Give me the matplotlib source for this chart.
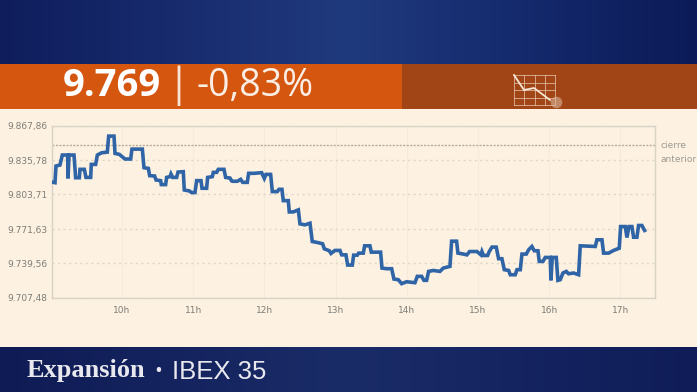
import numpy as np
import matplotlib
matplotlib.use("Agg")
import matplotlib.pyplot as plt
from matplotlib.colors import LinearSegmentedColormap
from matplotlib.patches import Rectangle

W, H = 697, 392

hours = [9.012,9.059,9.073,9.129,9.162,9.237,9.242,9.256,9.326,9.349,9.401,9.410,9.471,9.494,9.560,9.569,9.630,9.654,9.714,9.794,9.813,9.888,9.902,9.963,10.042,10.122,10.140,10.286,10.309,10.370,10.389,10.459,10.478,10.543,10.552,10.613,10.627,10.674,10.688,10.712,10.768,10.787,10.861,10.875,10.946,10.978,11.025,11.049,11.110,11.124,11.189,11.203,11.269,11.283,11.330,11.353,11.433,11.456,11.517,11.540,
         11.554,11.620,11.667,11.695,11.760,11.779,11.854,11.962,11.999,12.023,12.088,12.112,12.182,12.205,12.247,12.266,12.336,12.350,12.406,12.477,12.500,12.570,12.641,12.673,12.744,12.818,12.842,12.912,12.936,12.992,13.062,13.085,13.146,13.170,13.235,13.254,13.305,13.324,13.390,13.408,13.483,13.502,13.633,13.652,13.717,13.788,13.820,13.881,13.928,13.998,14.115,14.148,14.209,14.242,14.279,14.307,14.373,14.466,14.513,14.607,14.630,14.700,
         14.719,14.775,14.845,14.883,14.986,15.042,15.056,15.079,15.136,15.159,15.197,15.257,15.290,15.337,15.370,15.431,15.454,15.524,15.548,15.595,15.618,15.679,15.712,15.758,15.791,15.843,15.861,15.913,15.946,16.016,16.025,16.044,16.100,16.123,16.156,16.194,16.241,16.273,16.344,16.414,16.437,16.648,16.671,16.742,16.765,16.835,16.905,16.985,17.004,17.069,17.093,17.121,17.163,17.186,17.233,17.256,17.303,17.341]
values = [9815.3,9814.7,9830.2,9831.1,9840.4,9840.4,9818.7,9840.4,9840.4,9819.3,9819.3,9827.1,9827.1,9819.6,9819.6,9831.7,9831.7,9840.4,9842.5,9843.1,9858.0,9858.0,9841.9,9841.0,9836.7,9836.7,9845.9,9845.9,9828.6,9828.0,9821.2,9820.9,9817.2,9816.6,9812.9,9812.9,9819.6,9820.3,9822.8,9819.6,9819.6,9824.6,9824.9,9807.9,9807.0,9805.5,9805.5,9816.6,9816.6,9809.5,9809.5,9819.6,9820.3,9824.3,9824.3,9827.1,9827.1,9819.6,9819.0,9816.3,
          9816.0,9816.0,9817.8,9815.0,9815.0,9823.4,9823.4,9824.0,9818.7,9822.4,9822.4,9806.4,9806.4,9808.5,9808.5,9798.0,9798.0,9787.5,9787.5,9789.4,9776.4,9775.5,9777.0,9760.0,9759.1,9757.9,9753.2,9751.4,9748.9,9751.7,9751.7,9747.6,9747.6,9738.1,9738.1,9747.3,9747.3,9749.2,9749.2,9756.0,9756.0,9750.1,9750.1,9735.3,9734.7,9734.7,9725.1,9724.5,9720.8,9722.6,9721.7,9727.6,9727.6,9723.9,9723.9,9732.2,9733.1,9732.2,9735.3,9736.9,9760.3,9760.3,
          9749.2,9748.6,9747.6,9750.7,9750.7,9747.6,9750.7,9747.0,9747.0,9750.7,9754.8,9754.8,9744.0,9744.0,9733.8,9733.1,9729.1,9729.1,9733.8,9733.8,9748.3,9748.3,9752.3,9755.4,9751.4,9751.4,9741.5,9741.5,9745.2,9745.2,9723.9,9745.2,9745.2,9723.9,9724.5,9730.7,9732.2,9730.0,9730.7,9729.1,9756.0,9755.4,9761.6,9761.6,9749.2,9749.2,9751.7,9753.8,9773.9,9773.9,9763.7,9773.9,9773.9,9764.0,9764.0,9774.9,9774.9,9770.3]
prev_close = 9849.5
y_ticks = [9707.48, 9739.56, 9771.63, 9803.71, 9835.78, 9867.86]
y_labels = ["9.707,48", "9.739,56", "9.771,63", "9.803,71", "9.835,78", "9.867,86"]
x_ticks = [10, 11, 12, 13, 14, 15, 16, 17]
x_labels = ["10h", "11h", "12h", "13h", "14h", "15h", "16h", "17h"]

def ax_px(fig, x0, y0, x1, y1):
    return fig.add_axes([x0 / W, 1 - y1 / H, (x1 - x0) / W, (y1 - y0) / H])

fig = plt.figure(figsize=(W / 100, H / 100), dpi=100)
bg = fig.add_axes([0, 0, 1, 1])
bg.axis("off")

navy = LinearSegmentedColormap.from_list(
    "navy", [(0, "#0f1d5c"), (0.5, "#203a7e"), (0.75, "#142a6c"), (1, "#0c1a58")])
grad = np.linspace(0, 1, 256)[None, :]
bg.imshow(grad, extent=(0, W, 64, 0), cmap=navy, aspect="auto", zorder=0)
foot = LinearSegmentedColormap.from_list(
    "foot", [(0, "#0f1b55"), (0.5, "#1a2c68"), (1, "#0f1c58")])
bg.imshow(grad, extent=(0, W, 392, 347), cmap=foot, aspect="auto", zorder=0)
bg.add_patch(Rectangle((0, 64), 402, 45, color="#d4560f", lw=0, zorder=1))
bg.add_patch(Rectangle((402, 64), W - 402, 45, color="#a24516", lw=0, zorder=1))
bg.add_patch(Rectangle((0, 109), W, 238, color="#fdf1e2", lw=0, zorder=1))
bg.set_xlim(0, W); bg.set_ylim(H, 0)

sans = "Open Sans"
bg.text(63, 85.5, "9.769", color="white", fontsize=27.5, fontweight="bold", family=sans, va="center", ha="left", zorder=3)
bg.text(178, 86, "|", color="#f7e6d8", fontsize=29, family=sans, va="center", ha="center", zorder=3)
bg.text(196, 85.5, "-0,83%", color="#fbeee4", fontsize=27, family=sans, va="center", ha="left", zorder=3)
bg.text(27, 371, "Expansión", color="#e8e8ee", fontsize=19, fontweight="bold", family="Liberation Serif", va="center", ha="left", zorder=3)
bg.text(158, 372, "•", color="#e8e8ee", fontsize=15, family=sans, va="center", ha="center", zorder=3)
bg.text(172, 372, "IBEX 35", color="#e8e8ee", fontsize=18.5, family="Liberation Sans", va="center", ha="left", zorder=3)

# icon
ic = "#e4c5ab"
for gx in np.linspace(514, 555, 5):
    bg.plot([gx, gx], [75, 105], color=ic, lw=0.7, alpha=.75, zorder=3)
for gy in np.linspace(75, 105, 5):
    bg.plot([514, 555], [gy, gy], color=ic, lw=0.7, alpha=.75, zorder=3)
bg.plot([514, 524, 534, 550], [75, 90, 88, 100], color="#f6e6d6", lw=1.3, zorder=4)
bg.scatter([556], [102], s=70, color="#d9b49a", alpha=.6, lw=0, zorder=4)

ax = ax_px(fig, 52, 125.5, 655, 298)
ax.set_facecolor("none")
ax.plot(hours, values, color="#2f64a6", lw=2.6, solid_joinstyle="miter", zorder=3)
ax.axhline(prev_close, color="#b8ab96", lw=1, ls=(0, (1.5, 1)), zorder=2)
ax.set_xlim(9.017, 17.487)
ax.set_ylim(9707.48, 9867.86)
ax.set_yticks(y_ticks, y_labels)
ax.set_xticks(x_ticks, x_labels)
ax.grid(axis="y", color="#e0d6c4", lw=1, ls=(0, (1.5, 2.5)))
ax.grid(axis="x", color="#f5ebdc", lw=0.8)
ax.tick_params(length=0, labelsize=6.5, labelcolor="#7d7d76")
ax.tick_params(axis="y", pad=3.5)
ax.tick_params(axis="x", pad=6)
for s in ax.spines.values():
    s.set_color("#d9d3c6"); s.set_linewidth(1)
ax.set_axisbelow(True)
bg.text(660.5, 145.5, "cierre", color="#9c9a90", fontsize=6.5, va="center", ha="left", zorder=3)
bg.text(660.5, 159.5, "anterior", color="#9c9a90", fontsize=6.5, va="center", ha="left", zorder=3)

fig.savefig("out.png", dpi=100)
